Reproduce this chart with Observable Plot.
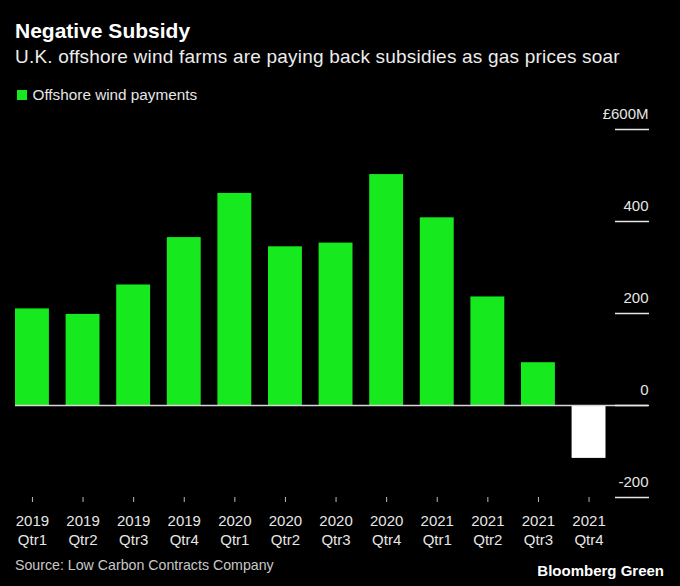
<!DOCTYPE html>
<html>
<head>
<meta charset="utf-8">
<script src="https://cdn.jsdelivr.net/npm/d3@7"></script>
<script src="https://cdn.jsdelivr.net/npm/@observablehq/plot@0.6"></script>
<style>
  html, body { margin: 0; padding: 0; background: #000; }
  #wrap { position: relative; width: 680px; height: 586px; background: #000; overflow: hidden;
          font-family: "Liberation Sans", Arial, sans-serif; }
  .t { position: absolute; white-space: nowrap; line-height: 1; z-index: 2; }
  #title { left: 15px; top: 19.5px; font-size: 21px; font-weight: bold; color: #fff; }
  #subtitle { left: 15px; top: 46.6px; font-size: 19px; letter-spacing: 0.2px; color: #ececec; }
  #legend { left: 16.5px; top: 87.3px; font-size: 15.3px; color: #e6e6e6; }
  #legend .sw { display: inline-block; width: 10px; height: 10px; background: #16e91e; margin-right: 6px; vertical-align: 0px; }
  #source { left: 15px; top: 558px; font-size: 14.2px; color: #c8c8c8; }
  #brand { right: 16px; top: 563.3px; font-size: 15px; font-weight: bold; color: #fff; }
  #chart { position: absolute; left: 0; top: 100px; z-index: 1; }
</style>
</head>
<body>
<div id="wrap">
  <div id="chart"></div>
  <div class="t" id="title">Negative Subsidy</div>
  <div class="t" id="subtitle">U.K. offshore wind farms are paying back subsidies as gas prices soar</div>
  <div class="t" id="legend"><span class="sw"></span>Offshore wind payments</div>
  <div class="t" id="source">Source: Low Carbon Contracts Company</div>
  <div class="t" id="brand">Bloomberg Green</div>
</div>
<script>
const periods = ["2019 Qtr1","2019 Qtr2","2019 Qtr3","2019 Qtr4",
                 "2020 Qtr1","2020 Qtr2","2020 Qtr3","2020 Qtr4",
                 "2021 Qtr1","2021 Qtr2","2021 Qtr3","2021 Qtr4"];
const payments = [210, 198, 262, 365, 461, 345, 353, 502, 408, 236, 93, -115];
const yTicks = [-200, 0, 200, 400, 600];
const yTickLabels = ["-200", "0", "200", "400", "£600M"];

const data = periods.map((p, i) => ({period: p, value: payments[i]}));

const chart = Plot.plot({
  width: 680,
  height: 450,
  marginLeft: 15,
  marginRight: 32,
  marginTop: 29,
  marginBottom: 53,
  style: {background: "transparent", color: "#e6e6e6", fontFamily: "'Liberation Sans', Arial, sans-serif", fontSize: "15px"},
  x: {domain: periods, range: [15, 605.5], paddingInner: 0.33, paddingOuter: 0, round: false, label: null},
  y: {domain: [-200, 600], label: null},
  color: {type: "identity"},
  marks: [
    Plot.barY(data, {x: "period", y: "value", fill: d => d.value >= 0 ? "#16e91e" : "#ffffff"}),
    Plot.ruleY([0], {stroke: "#d8d8d8", strokeWidth: 1.5}),
    Plot.axisY(yTicks, {anchor: "right", tickSize: 34, dx: -34, tickFormat: () => "", stroke: "#e6e6e6", strokeWidth: 1.5}),
    Plot.text(yTicks, {y: d => d, text: (d, i) => yTickLabels[i], frameAnchor: "right", textAnchor: "end", dy: -15, fill: "#e6e6e6", fontSize: 15}),
    Plot.axisX({tickSize: 5, tickPadding: 10, tickFormat: d => d.replace(" ", "\n"), lineHeight: 1.27, fontSize: 15, stroke: "#bbb"})
  ]
});
document.getElementById("chart").appendChild(chart);
</script>
</body>
</html>
